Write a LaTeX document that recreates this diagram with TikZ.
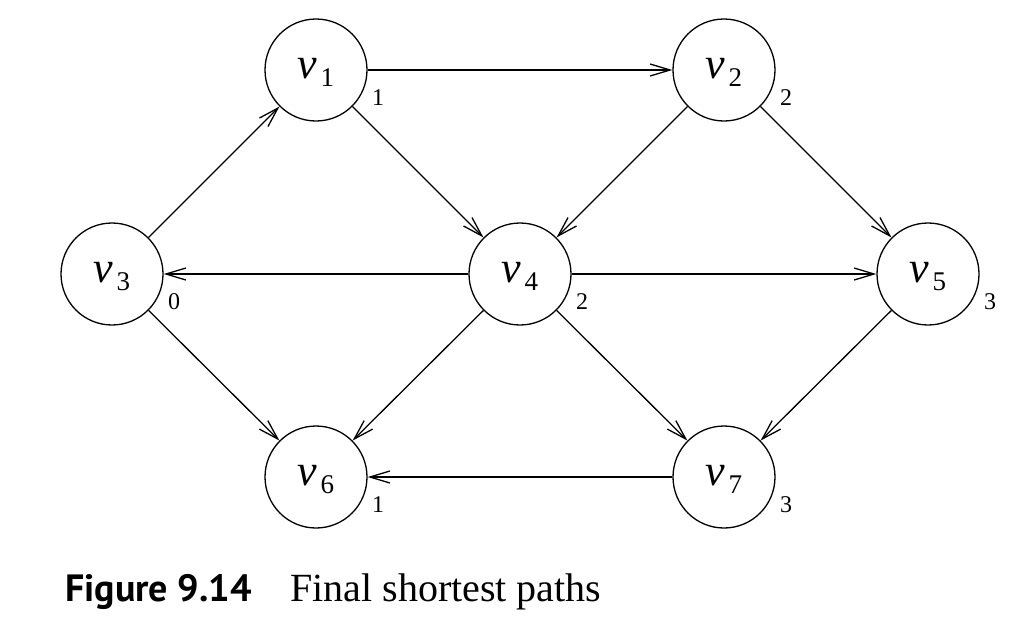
\documentclass[tikz,border=0pt]{standalone}
\usepackage{fontspec}
\setmainfont{Liberation Serif}
\newfontfamily\figfont{PT Sans}
\usetikzlibrary{arrows.meta,calc}
\tikzset{
  vert/.style={circle,draw,line width=1.3pt,minimum size=102pt,inner sep=0pt,text height=20pt,text depth=4pt},
  edge/.style={line width=1.3pt,-{Straight Barb[length=20pt,width=12pt]}},
  dist/.style={inner sep=0pt,anchor=base,font=\fontsize{24}{24}\selectfont},
}
\newcommand{\vname}[1]{{\fontsize{44}{44}\selectfont\itshape v}\hspace{3pt}\raisebox{-8pt}{\fontsize{27}{27}\selectfont #1}\hspace{4pt}}
\begin{document}
\begin{tikzpicture}[x=1pt,y=-1pt]
\useasboundingbox[fill=white] (0,0) rectangle (1027,641);
\node[vert] (v1) at (316,70) {\vname{1}};
\node[vert] (v2) at (724,70) {\vname{2}};
\node[vert] (v3) at (112,274) {\vname{3}};
\node[vert] (v4) at (520,274) {\vname{4}};
\node[vert] (v5) at (928,274) {\vname{5}};
\node[vert] (v6) at (316,477) {\vname{6}};
\node[vert] (v7) at (724,477) {\vname{7}};
\node[dist] (d1) at ($(v1)+(62,35)$) {1};
\node[dist] (d2) at ($(v2)+(62,35)$) {2};
\node[dist] (d3) at ($(v3)+(62,35)$) {0};
\node[dist] (d4) at ($(v4)+(62,35)$) {2};
\node[dist] (d5) at ($(v5)+(62,35)$) {3};
\node[dist] (d6) at ($(v6)+(62,35)$) {1};
\node[dist] (d7) at ($(v7)+(62,35)$) {3};
\draw[edge] (v1) -- (v2);
\draw[edge] (v1) -- (v4);
\draw[edge] (v3) -- (v1);
\draw[edge] (v2) -- (v4);
\draw[edge] (v2) -- (v5);
\draw[edge] (v4) -- (v3);
\draw[edge] (v4) -- (v5);
\draw[edge] (v4) -- (v6);
\draw[edge] (v4) -- (v7);
\draw[edge] (v3) -- (v6);
\draw[edge] (v5) -- (v7);
\draw[edge] (v7) -- (v6);
\node[inner sep=0pt,anchor=base west,font=\figfont\bfseries\fontsize{38}{38}\selectfont] (fig) at (65,601) {Figure 9.14};
\node[inner sep=0pt,anchor=base west,font=\fontsize{40}{40}\selectfont] (cap) at (290,601) {Final shortest paths};
\end{tikzpicture}
\end{document}
